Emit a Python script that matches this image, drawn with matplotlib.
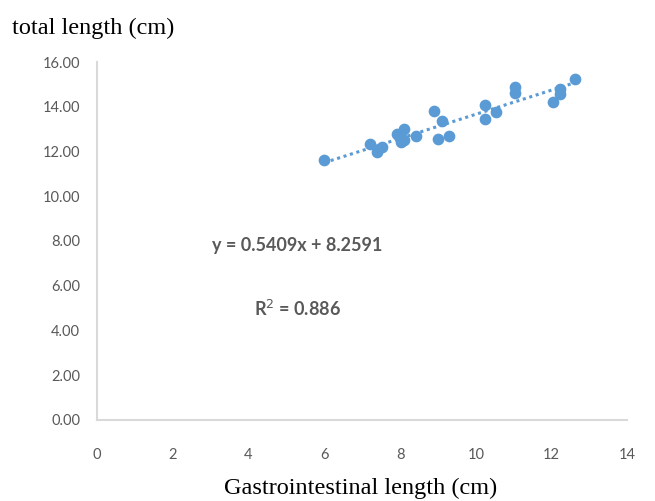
import numpy as np
import matplotlib.pyplot as plt

# data
gi_len = [6.0, 7.21, 7.40, 7.52, 7.93, 8.10, 8.02, 8.10, 8.41, 8.89, 9.10,
          9.01, 9.29, 10.23, 10.23, 10.52, 11.02, 11.02, 12.03, 12.23, 12.23, 12.62]
tot_len = [11.62, 12.32, 11.99, 12.19, 12.78, 13.03, 12.44, 12.51, 12.69, 13.82, 13.35,
           12.54, 12.69, 14.06, 13.47, 13.77, 14.87, 14.60, 14.20, 14.82, 14.57, 15.23]
slope = 0.5409
intercept = 8.2591
r2 = 0.886
xticks = [0, 2, 4, 6, 8, 10, 12, 14]
yticks = [0, 2, 4, 6, 8, 10, 12, 14, 16]

blue = '#5b9bd5'
grey = '#595959'

fig = plt.figure(figsize=(6.55, 5.01), dpi=100)
ax = fig.add_axes([0.148, 0.162, 0.81, 0.714])

ax.scatter(gi_len, tot_len, s=55, color=blue, zorder=3)

# trendline
xt = np.array([min(gi_len), max(gi_len)])
ax.plot(xt, slope * xt + intercept, color=blue, ls=(0, (1, 1.2)), lw=2.2, zorder=2)

ax.set_xlim(0, 14)
ax.set_ylim(0, 16)
ax.set_xticks(xticks)
ax.set_yticks(yticks)
ax.set_yticklabels(['%.2f' % v for v in yticks])

tick_font = ['Lato', 'DejaVu Sans']
for lab in ax.get_xticklabels() + ax.get_yticklabels():
    lab.set_family(tick_font)
    lab.set_fontsize(10.5)
    lab.set_color(grey)
ax.tick_params(axis='x', length=0, pad=20)
ax.tick_params(axis='y', length=0, pad=12)

for s in ['top', 'right']:
    ax.spines[s].set_visible(False)
for s in ['left', 'bottom']:
    ax.spines[s].set_color('#d9d9d9')
    ax.spines[s].set_linewidth(1.5)

ax.text(5.29, 7.82, 'y = %.4fx + %.4f' % (slope, intercept), ha='center', va='center',
        fontsize=13, color=grey, family=tick_font, fontweight='bold')
ax.text(5.29, 4.96, 'R$^2$ = %.3f' % r2, ha='center', va='center',
        fontsize=13, color=grey, family=tick_font, fontweight='bold')

fig.text(0.018, 0.944, 'total length (cm)', family='Liberation Serif', fontsize=17.5,
         ha='left', va='center')
fig.text(0.55, 0.026, 'Gastrointestinal length (cm)', family='Liberation Serif', fontsize=17.5,
         ha='center', va='center')

fig.savefig('out.png', dpi=100)
